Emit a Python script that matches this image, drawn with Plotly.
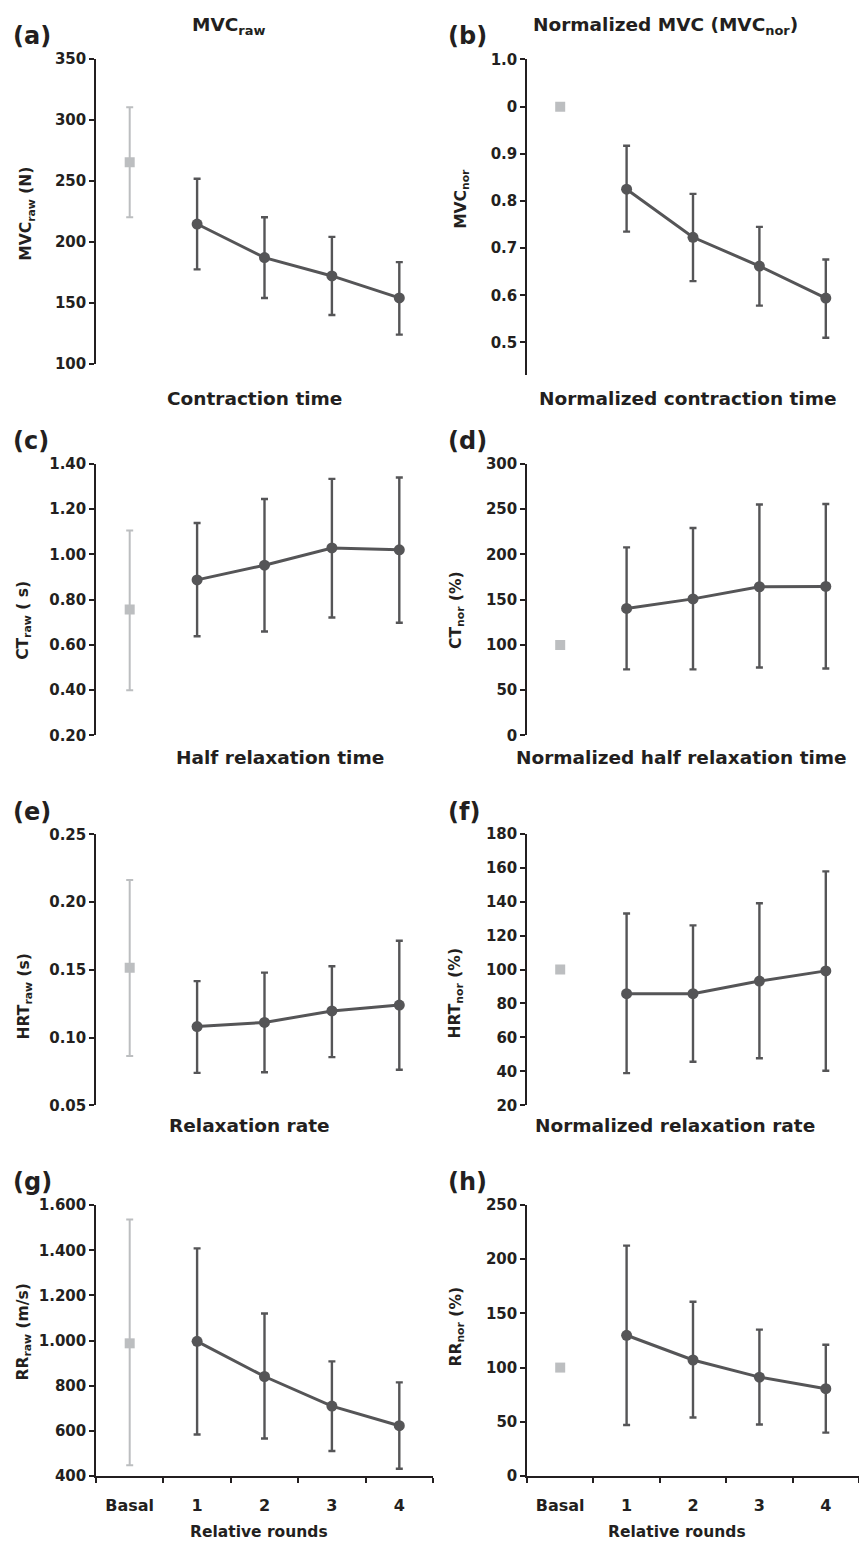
import plotly.graph_objects as go
from plotly.subplots import make_subplots

# ---------------- data ----------------
categories = ["Basal", "1", "2", "3", "4"]
rounds = ["1", "2", "3", "4"]

# (a) MVC raw (N)
mvc_raw_basal = 265
mvc_raw_basal_hi = 310
mvc_raw_basal_lo = 220
mvc_raw_mean = [214.5, 187, 172, 154]
mvc_raw_hi = [251.6, 220, 204, 183.3]
mvc_raw_lo = [177.4, 154, 140, 124]

# (b) MVC normalized
mvc_nor_basal = 1.0
mvc_nor_mean = [0.825, 0.723, 0.662, 0.594]
mvc_nor_hi = [0.917, 0.815, 0.745, 0.676]
mvc_nor_lo = [0.735, 0.630, 0.578, 0.510]

# (c) CT raw (s)
ct_raw_basal = 0.756
ct_raw_basal_hi = 1.105
ct_raw_basal_lo = 0.40
ct_raw_mean = [0.887, 0.952, 1.028, 1.020]
ct_raw_hi = [1.138, 1.244, 1.333, 1.339]
ct_raw_lo = [0.638, 0.659, 0.721, 0.698]

# (d) CT normalized (%)
ct_nor_basal = 100
ct_nor_mean = [140.2, 150.8, 164.2, 164.5]
ct_nor_hi = [207.6, 229, 255, 255.5]
ct_nor_lo = [73, 73, 75, 74]

# (e) HRT raw (s)
hrt_raw_basal = 0.1515
hrt_raw_basal_hi = 0.2163
hrt_raw_basal_lo = 0.0864
hrt_raw_mean = [0.1082, 0.1112, 0.1197, 0.1240]
hrt_raw_hi = [0.1417, 0.1480, 0.1527, 0.1715]
hrt_raw_lo = [0.0740, 0.0745, 0.0856, 0.0763]

# (f) HRT normalized (%)
hrt_nor_basal = 100
hrt_nor_mean = [85.8, 85.8, 93.2, 99.2]
hrt_nor_hi = [133, 126, 139, 157.8]
hrt_nor_lo = [39, 45.7, 47.8, 40.4]

# (g) RR raw (m/s)
rr_raw_basal = 988
rr_raw_basal_hi = 1537
rr_raw_basal_lo = 448
rr_raw_mean = [997, 841, 710, 623]
rr_raw_hi = [1409, 1120, 908, 815]
rr_raw_lo = [584, 566, 511, 432]

# (h) RR normalized (%)
rr_nor_basal = 100
rr_nor_mean = [129.8, 107, 91.2, 80.5]
rr_nor_hi = [212.5, 160.7, 135, 121]
rr_nor_lo = [47, 54, 47.5, 40]

# tick values / labels
ticks_a = [100, 150, 200, 250, 300, 350]
ticks_b = [0.5, 0.6, 0.7, 0.8, 0.9, 1.0, 1.1]
ticktext_b = ["0.5", "0.6", "0.7", "0.8", "0.9", "0", "1.0"]
ticks_c = [0.2, 0.4, 0.6, 0.8, 1.0, 1.2, 1.4]
ticktext_c = ["0.20", "0.40", "0.60", "0.80", "1.00", "1.20", "1.40"]
ticks_d = [0, 50, 100, 150, 200, 250, 300]
ticks_e = [0.05, 0.10, 0.15, 0.20, 0.25]
ticktext_e = ["0.05", "0.10", "0.15", "0.20", "0.25"]
ticks_f = [20, 40, 60, 80, 100, 120, 140, 160, 180]
ticks_g = [400, 600, 800, 1000, 1200, 1400, 1600]
ticktext_g = ["400", "600", "800", "1.000", "1.200", "1.400", "1.600"]
ticks_h = [0, 50, 100, 150, 200, 250]

section_titles = ["MVC<sub>raw</sub>", "Normalized MVC (MVC<sub>nor</sub>)",
                  "Contraction time", "Normalized contraction time",
                  "Half relaxation time", "Normalized half relaxation time",
                  "Relaxation rate", "Normalized relaxation rate"]
panel_labels = ["(a)", "(b)", "(c)", "(d)", "(e)", "(f)", "(g)", "(h)"]
y_titles = ["MVC<sub>raw</sub> (N)", "MVC<sub>nor</sub>",
            "CT<sub>raw</sub> ( s)", "CT<sub>nor</sub> (%)",
            "HRT<sub>raw</sub> (s)", "HRT<sub>nor</sub> (%)",
            "RR<sub>raw</sub> (m/s)", "RR<sub>nor</sub> (%)"]
x_title = "Relative rounds"

# ---------------- style ----------------
PAGE_MARGIN = 8          # default browser body margin around the plot div
W, H = 867 - 2 * PAGE_MARGIN, 1554 - 2 * PAGE_MARGIN
FONT = "DejaVu Sans"
TXT = "#231f20"
DARK = "#555557"
GRAY = "#bcbec0"

fig = make_subplots(rows=4, cols=2)


def px_y(p):
    return 1 - (p - PAGE_MARGIN) / H


def px_x(p):
    return (p - PAGE_MARGIN) / W


panels = [
    (1, 1, mvc_raw_basal, mvc_raw_basal_hi, mvc_raw_basal_lo, mvc_raw_mean, mvc_raw_hi, mvc_raw_lo,
     [100, 350], ticks_a, [str(v) for v in ticks_a]),
    (1, 2, mvc_nor_basal, None, None, mvc_nor_mean, mvc_nor_hi, mvc_nor_lo,
     [0.43, 1.1], ticks_b, ticktext_b),
    (2, 1, ct_raw_basal, ct_raw_basal_hi, ct_raw_basal_lo, ct_raw_mean, ct_raw_hi, ct_raw_lo,
     [0.2, 1.4], ticks_c, ticktext_c),
    (2, 2, ct_nor_basal, None, None, ct_nor_mean, ct_nor_hi, ct_nor_lo,
     [0, 300], ticks_d, [str(v) for v in ticks_d]),
    (3, 1, hrt_raw_basal, hrt_raw_basal_hi, hrt_raw_basal_lo, hrt_raw_mean, hrt_raw_hi, hrt_raw_lo,
     [0.05, 0.25], ticks_e, ticktext_e),
    (3, 2, hrt_nor_basal, None, None, hrt_nor_mean, hrt_nor_hi, hrt_nor_lo,
     [20, 180], ticks_f, [str(v) for v in ticks_f]),
    (4, 1, rr_raw_basal, rr_raw_basal_hi, rr_raw_basal_lo, rr_raw_mean, rr_raw_hi, rr_raw_lo,
     [400, 1600], ticks_g, ticktext_g),
    (4, 2, rr_nor_basal, None, None, rr_nor_mean, rr_nor_hi, rr_nor_lo,
     [0, 250], ticks_h, [str(v) for v in ticks_h]),
]

# pixel domains (page pixels)
y_dom_px = [(50, 359), (51, 370.7), (460, 735), (460, 735),
            (835, 1109.3), (834.3, 1109.3), (1210.3, 1484.3), (1210, 1484.3)]
x_dom_px = {1: (96, 433), 2: (527, 865)}

for i, (r, c, b, bhi, blo, m, hi, lo, rng, tv, tt) in enumerate(panels):
    eb = None
    if bhi is not None:
        eb = dict(type="data", symmetric=False, array=[bhi - b], arrayminus=[b - blo],
                  color=GRAY, thickness=2, width=3.5)
    fig.add_trace(go.Scatter(x=["Basal"], y=[b], mode="markers",
                             marker=dict(symbol="square", size=10, color=GRAY),
                             error_y=eb, showlegend=False), row=r, col=c)
    fig.add_trace(go.Scatter(x=rounds, y=m, mode="lines+markers",
                             line=dict(color=DARK, width=3),
                             marker=dict(symbol="circle", size=11, color=DARK),
                             error_y=dict(type="data", symmetric=False,
                                          array=[h - v for h, v in zip(hi, m)],
                                          arrayminus=[v - l for v, l in zip(m, lo)],
                                          color=DARK, thickness=2.4, width=3.5),
                             showlegend=False), row=r, col=c)
    idx = i + 1
    xa = "xaxis" if idx == 1 else f"xaxis{idx}"
    ya = "yaxis" if idx == 1 else f"yaxis{idx}"
    y0, y1 = y_dom_px[i]
    x0, x1 = x_dom_px[c]
    bottom = r == 4
    fig.update_layout({
        xa: dict(domain=[max(0, px_x(x0)), min(1, px_x(x1))], type="category",
                 categoryorder="array", categoryarray=categories,
                 range=[-0.5, 4.5], visible=bottom,
                 showline=True, linecolor=TXT, linewidth=1.5,
                 ticks="outside", tickson="boundaries", ticklen=5, tickwidth=1.5,
                 tickcolor=TXT, showgrid=False, zeroline=False,
                 ticklabelstandoff=14,
                 tickfont=dict(family=FONT, size=16, color=TXT, weight="bold")),
        ya: dict(domain=[max(0, px_y(y1)), min(1, px_y(y0))], range=rng, tickmode="array",
                 tickvals=tv, ticktext=tt, showline=True, linecolor=TXT, linewidth=1.5,
                 ticks="outside", ticklen=5, tickwidth=1.5, tickcolor=TXT,
                 showgrid=False, zeroline=False,
                 tickfont=dict(family=FONT, size=15, color=TXT, weight="bold")),
    })

annotations = []
title_pos = [(229, 17), (665, 17), (254, 394), (688, 394),
             (280, 757), (681, 757), (249, 1130), (675, 1130)]
for t, (x, y) in zip(section_titles, title_pos):
    annotations.append(dict(text=t, x=px_x(x), y=px_y(y), xref="paper", yref="paper",
                            xanchor="center", yanchor="middle", showarrow=False,
                            font=dict(family=FONT, size=18.5, color=TXT, weight="bold")))
label_pos = [(11, 27), (446, 27), (11, 437), (446, 437),
             (11, 812), (446, 812), (11, 1187), (446, 1187)]
for t, (x, y) in zip(panel_labels, label_pos):
    annotations.append(dict(text=t, x=px_x(x), y=px_y(y), xref="paper", yref="paper",
                            xanchor="left", yanchor="middle", showarrow=False,
                            font=dict(family=FONT, size=24, color=TXT, weight="bold")))
ytitle_pos = [(27, 207), (462, 192), (24, 619), (457, 608),
              (25, 999), (456, 996), (24, 1339), (457, 1333)]
for t, (x, y) in zip(y_titles, ytitle_pos):
    annotations.append(dict(text=t, x=px_x(x), y=px_y(y), xref="paper", yref="paper",
                            xanchor="center", yanchor="middle", showarrow=False,
                            textangle=-90,
                            font=dict(family=FONT, size=15.5, color=TXT, weight="bold")))
for x in (259, 677):
    annotations.append(dict(text=x_title, x=px_x(x), y=px_y(1541), xref="paper", yref="paper",
                            xanchor="center", yanchor="middle", showarrow=False,
                            font=dict(family=FONT, size=15.5, color=TXT, weight="bold")))

fig.update_layout(width=W, height=H, margin=dict(l=0, r=0, t=0, b=0),
                  paper_bgcolor="white", plot_bgcolor="white",
                  annotations=annotations, showlegend=False,
                  font=dict(family=FONT, color=TXT))

fig.write_html("out.html", config={"displayModeBar": False})
